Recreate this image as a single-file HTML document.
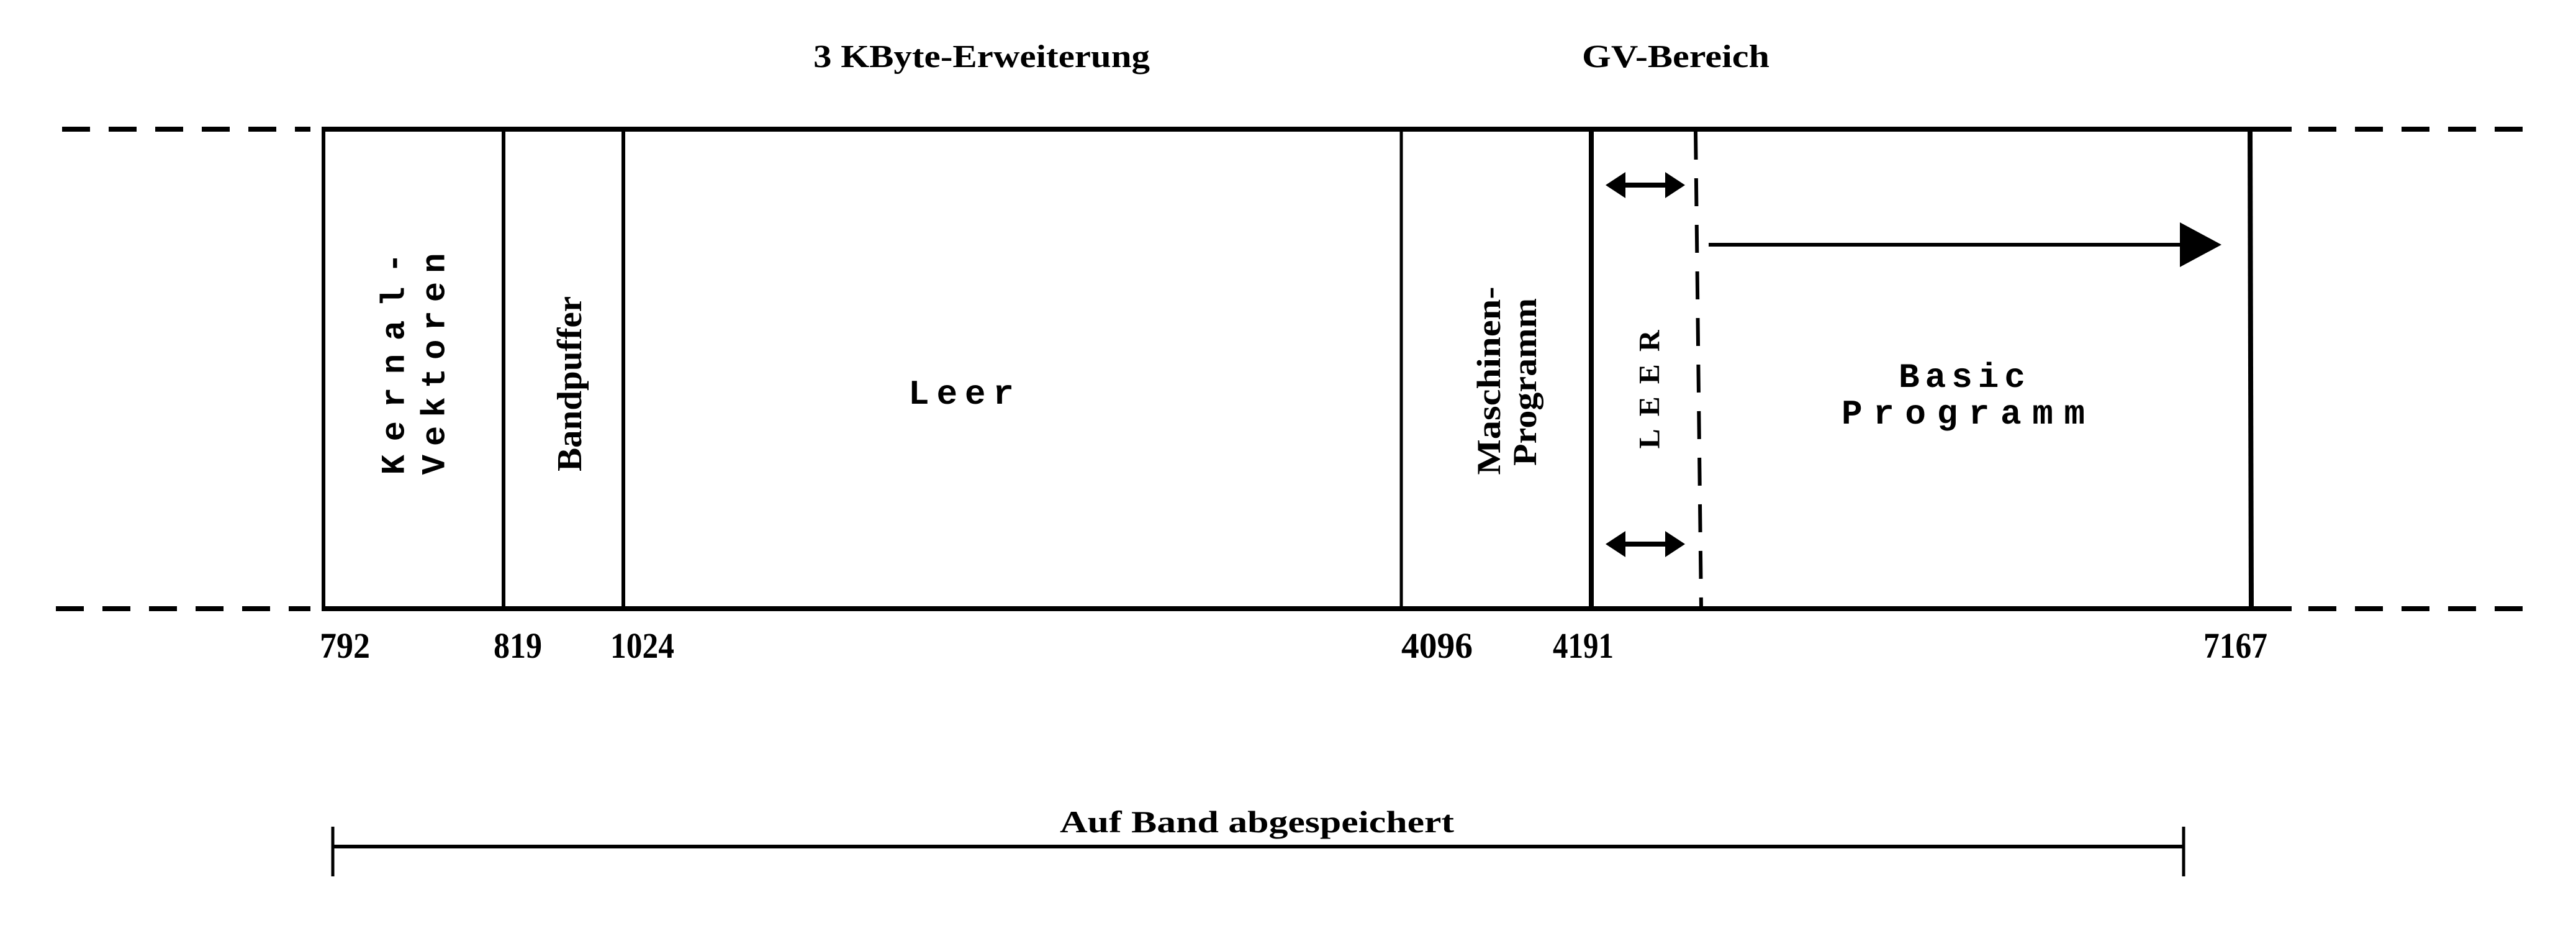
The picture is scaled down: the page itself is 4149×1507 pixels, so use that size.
<!DOCTYPE html>
<html><head><meta charset="utf-8"><style>
html,body{margin:0;padding:0;background:#fff;}
svg{display:block;}
.t{font-family:"Liberation Serif",serif;font-weight:bold;fill:#000;}
.m{font-family:"Liberation Mono",monospace;font-weight:bold;fill:#000;}
</style></head><body>
<svg width="4149" height="1507" viewBox="0 0 4149 1507" xmlns="http://www.w3.org/2000/svg">
<g stroke="#000" stroke-width="8" fill="none">
<line x1="100" y1="208" x2="500" y2="208" stroke-dasharray="45,30"/>
<line x1="3718" y1="208" x2="4070" y2="208" stroke-dasharray="45,30"/>
<line x1="90" y1="980" x2="500" y2="980" stroke-dasharray="45,30"/>
<line x1="3718" y1="980" x2="4070" y2="980" stroke-dasharray="45,30"/>
<line x1="518" y1="208" x2="3691" y2="208"/>
<line x1="518" y1="980" x2="3691" y2="980"/>
<line x1="521" y1="208" x2="521" y2="980" stroke-width="6"/>
<line x1="811" y1="208" x2="811" y2="980" stroke-width="6"/>
<line x1="1004" y1="208" x2="1004" y2="980" stroke-width="6"/>
<line x1="2257" y1="208" x2="2257" y2="980" stroke-width="5"/>
<line x1="2563" y1="208" x2="2563" y2="980" stroke-width="8"/>
<line x1="2731" y1="212" x2="2740" y2="980" stroke-width="6" stroke-dasharray="45,30"/>
<line x1="3624" y1="208" x2="3626" y2="980" stroke-width="8"/>
<line x1="2605" y1="298" x2="2695" y2="298" stroke-width="8"/>
<line x1="2605" y1="876" x2="2695" y2="876" stroke-width="8"/>
<line x1="2752" y1="394" x2="3520" y2="394" stroke-width="6"/>
<line x1="534" y1="1363" x2="3517" y2="1363" stroke-width="6"/>
<line x1="536" y1="1331" x2="536" y2="1411" stroke-width="5"/>
<line x1="3517" y1="1331" x2="3517" y2="1411" stroke-width="5"/>
</g>
<g fill="#000" stroke="none">
<polygon points="2586,298 2618,277 2618,319"/>
<polygon points="2714,298 2682,277 2682,319"/>
<polygon points="2586,876 2618,855 2618,897"/>
<polygon points="2714,876 2682,855 2682,897"/>
<polygon points="3511,358 3578,394 3511,430"/>
</g>
<text class="t" x="1310" y="108" font-size="52" textLength="542" lengthAdjust="spacingAndGlyphs">3 KByte-Erweiterung</text>
<text class="t" x="2548" y="108" font-size="52" textLength="302" lengthAdjust="spacingAndGlyphs">GV-Bereich</text>
<text class="m" transform="translate(637,586) rotate(-90)" text-anchor="middle" dominant-baseline="central" font-size="54" textLength="357" lengthAdjust="spacing">Kernal-</text>
<text class="m" transform="translate(702,586) rotate(-90)" text-anchor="middle" dominant-baseline="central" font-size="54" textLength="357" lengthAdjust="spacing">Vektoren</text>
<text class="t" transform="translate(918,618) rotate(-90)" text-anchor="middle" dominant-baseline="central" font-size="56" textLength="282" lengthAdjust="spacingAndGlyphs">Bandpuffer</text>
<text class="m" x="1463" y="650" font-size="56" textLength="170" lengthAdjust="spacing">Leer</text>
<text class="t" transform="translate(2398,613) rotate(-90)" text-anchor="middle" dominant-baseline="central" font-size="54" textLength="303" lengthAdjust="spacingAndGlyphs">Maschinen-</text>
<text class="t" transform="translate(2456,615) rotate(-90)" text-anchor="middle" dominant-baseline="central" font-size="54" textLength="270" lengthAdjust="spacingAndGlyphs">Programm</text>
<text class="t" transform="translate(2657,627) rotate(-90)" text-anchor="middle" dominant-baseline="central" font-size="48" textLength="191" lengthAdjust="spacing">LEER</text>
<text class="m" x="3058" y="623" font-size="56" textLength="204" lengthAdjust="spacing">Basic</text>
<text class="m" x="2966" y="682" font-size="56" textLength="392" lengthAdjust="spacing">Programm</text>
<text class="t" x="515" y="1059" font-size="58" textLength="81" lengthAdjust="spacingAndGlyphs">792</text>
<text class="t" x="795" y="1059" font-size="58" textLength="78" lengthAdjust="spacingAndGlyphs">819</text>
<text class="t" x="983" y="1059" font-size="58" textLength="103" lengthAdjust="spacingAndGlyphs">1024</text>
<text class="t" x="2257" y="1059" font-size="58" textLength="115" lengthAdjust="spacingAndGlyphs">4096</text>
<text class="t" x="2501" y="1059" font-size="58" textLength="98" lengthAdjust="spacingAndGlyphs">4191</text>
<text class="t" x="3549" y="1059" font-size="58" textLength="103" lengthAdjust="spacingAndGlyphs">7167</text>
<text class="t" x="1707" y="1340" font-size="50" textLength="635" lengthAdjust="spacingAndGlyphs">Auf Band abgespeichert</text>
</svg>
</body></html>
